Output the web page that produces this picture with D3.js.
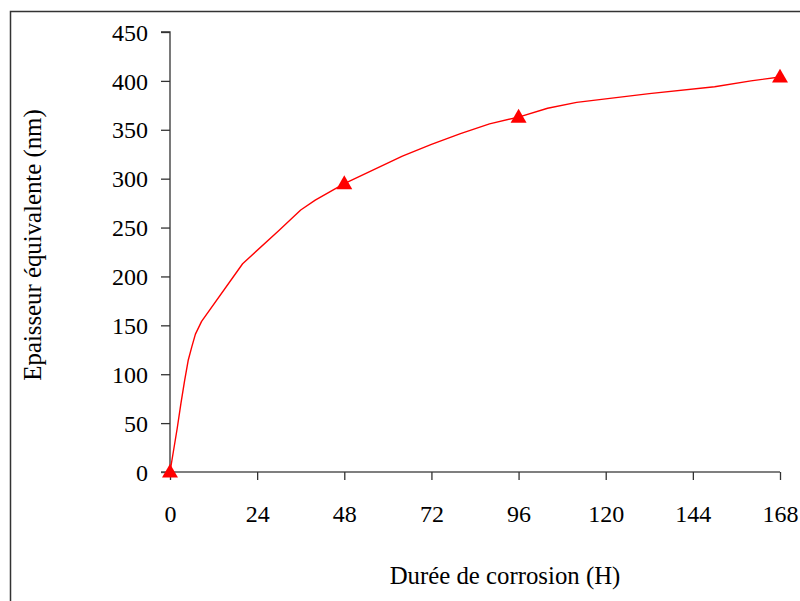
<!DOCTYPE html>
<html>
<head>
<meta charset="utf-8">
<script src="https://cdn.jsdelivr.net/npm/d3@7"></script>
<style>
  html, body { margin: 0; padding: 0; background: #fff; overflow: hidden; }
  svg { display: block; }
  text { font-family: "Liberation Serif", "Times New Roman", serif; fill: #000; }
</style>
</head>
<body>
<svg id="chart" width="800" height="601"></svg>
<script>
// Curve data (hours, nm)
const hours = [0, 2, 3, 4, 5, 6, 7, 8.7, 20, 30, 36, 40, 48, 64, 72, 80, 88, 96, 104, 112, 132, 150, 160, 168];
const thickness = [0, 45, 70, 93, 114, 128, 141, 154, 213, 247, 268, 278, 295, 323, 335, 346, 356, 363, 372, 378, 387, 394, 400, 404];
// Measured points (markers)
const markerHours = [0, 48, 96, 168];
const markerValues = [0, 295, 363, 404];
// Ticks
const xTicks = [0, 24, 48, 72, 96, 120, 144, 168];
const yTicks = [0, 50, 100, 150, 200, 250, 300, 350, 400, 450];
const xTitle = "Durée de corrosion (H)";
const yTitle = "Epaisseur équivalente (nm)";

const svg = d3.select("#chart");
const FONT = 24;
const TITLE_FONT = 24.8;

// outer frame
svg.append("rect")
  .attr("x", 10.5).attr("y", 11.5)
  .attr("width", 820).attr("height", 620)
  .attr("fill", "none").attr("stroke", "#333").attr("stroke-width", 1.5);

const x = d3.scaleLinear().domain([0, 168]).range([170, 780]);
const y = d3.scaleLinear().domain([0, 450]).range([472, 32]);

// Y axis
const yAxis = d3.axisLeft(y).tickValues(yTicks).tickSize(9).tickPadding(13).tickFormat(d3.format("d"));
const gy = svg.append("g").attr("transform", "translate(170,0)").call(yAxis);
gy.select(".domain").attr("stroke", "#333").attr("stroke-width", 1.3).attr("d", `M-9,${y(450)}H0V${y(0)}`);
gy.selectAll(".tick line").attr("stroke", "#333").attr("stroke-width", 1.3);
gy.selectAll(".tick text").attr("font-size", FONT).attr("font-family", "Liberation Serif").attr("fill", "#000").attr("dy", "0.34em");

// X axis
const xAxis = d3.axisBottom(x).tickValues(xTicks).tickSize(8).tickPadding(25).tickFormat(d3.format("d"));
const gx = svg.append("g").attr("transform", "translate(0,472)").call(xAxis);
gx.select(".domain").attr("stroke", "#555").attr("stroke-width", 1.5).attr("d", `M161,0H780`);
gx.selectAll(".tick line").attr("stroke", "#333").attr("stroke-width", 1.3);
gx.selectAll(".tick text").attr("font-size", FONT).attr("font-family", "Liberation Serif").attr("fill", "#000").attr("dy", "0.71em");

// Line
const line = d3.line().x((d, i) => x(hours[i])).y(d => y(d));
svg.append("path")
  .datum(thickness)
  .attr("d", line)
  .attr("fill", "none")
  .attr("stroke", "#ff0000")
  .attr("stroke-width", 1.4)
  .attr("stroke-linejoin", "round");

// Markers
const tri = d3.symbol().type(d3.symbolTriangle).size(110);
svg.selectAll(".marker")
  .data(markerValues)
  .join("path")
  .attr("class", "marker")
  .attr("transform", (d, i) => `translate(${x(markerHours[i])},${y(d) + 1})`)
  .attr("d", tri)
  .attr("fill", "#ff0000");

// Titles
svg.append("text")
  .attr("x", 505).attr("y", 584)
  .attr("text-anchor", "middle")
  .attr("font-size", TITLE_FONT)
  .text(xTitle);

svg.append("text")
  .attr("transform", "translate(41,245) rotate(-90)")
  .attr("text-anchor", "middle")
  .attr("font-size", TITLE_FONT)
  .text(yTitle);
</script>
</body>
</html>
